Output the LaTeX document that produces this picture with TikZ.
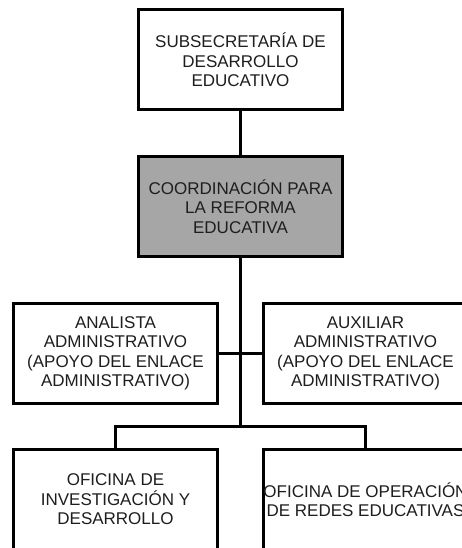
\documentclass[tikz,border=0pt]{standalone}
\usepackage{fontspec}
\setmainfont{Liberation Sans}
\definecolor{boxgray}{HTML}{A6A6A6}
\definecolor{txt}{HTML}{1E1E1E}
\tikzset{
  orgbox/.style={draw=black, line width=3pt, minimum width=204pt, minimum height=100pt,
    align=center, text=txt, inner sep=0pt,
    font=\fontsize{17}{19.5}\selectfont},
  link/.style={line width=3pt, draw=black}
}
\begin{document}
\begin{tikzpicture}[x=1pt,y=1pt]
\useasboundingbox (0,0) rectangle (461,548);
\fill[white] (0,0) rectangle (461,548);
\node[orgbox] (b1) at (240.5,488) {SUBSECRETARÍA DE\\DESARROLLO\\EDUCATIVO};
\node[orgbox, fill=boxgray] (b2) at (240.5,341.5) {COORDINACIÓN PARA\\LA REFORMA\\EDUCATIVA};
\node[orgbox] (b3l) at (115.5,194.5) {ANALISTA\\ADMINISTRATIVO\\(APOYO DEL ENLACE\\ADMINISTRATIVO)};
\node[orgbox] (b3r) at (365.5,194.5) {AUXILIAR\\ADMINISTRATIVO\\(APOYO DEL ENLACE\\ADMINISTRATIVO)};
\node[orgbox] (b4l) at (115.5,48.5) {OFICINA DE\\INVESTIGACIÓN Y\\DESARROLLO};
\node[orgbox] (b4r) at (365.5,48.5) {OFICINA DE OPERACIÓN\\DE REDES EDUCATIVAS};
\coordinate (jn) at (240.5,121);
\draw[link] (b1.south) -- (b2.north);
\draw[link] (b2.south) -- (jn);
\draw[link] (b3l.east) -- (b3r.west);
\draw[link] (b4l.north) |- (jn) -| (b4r.north);
\end{tikzpicture}
\end{document}
